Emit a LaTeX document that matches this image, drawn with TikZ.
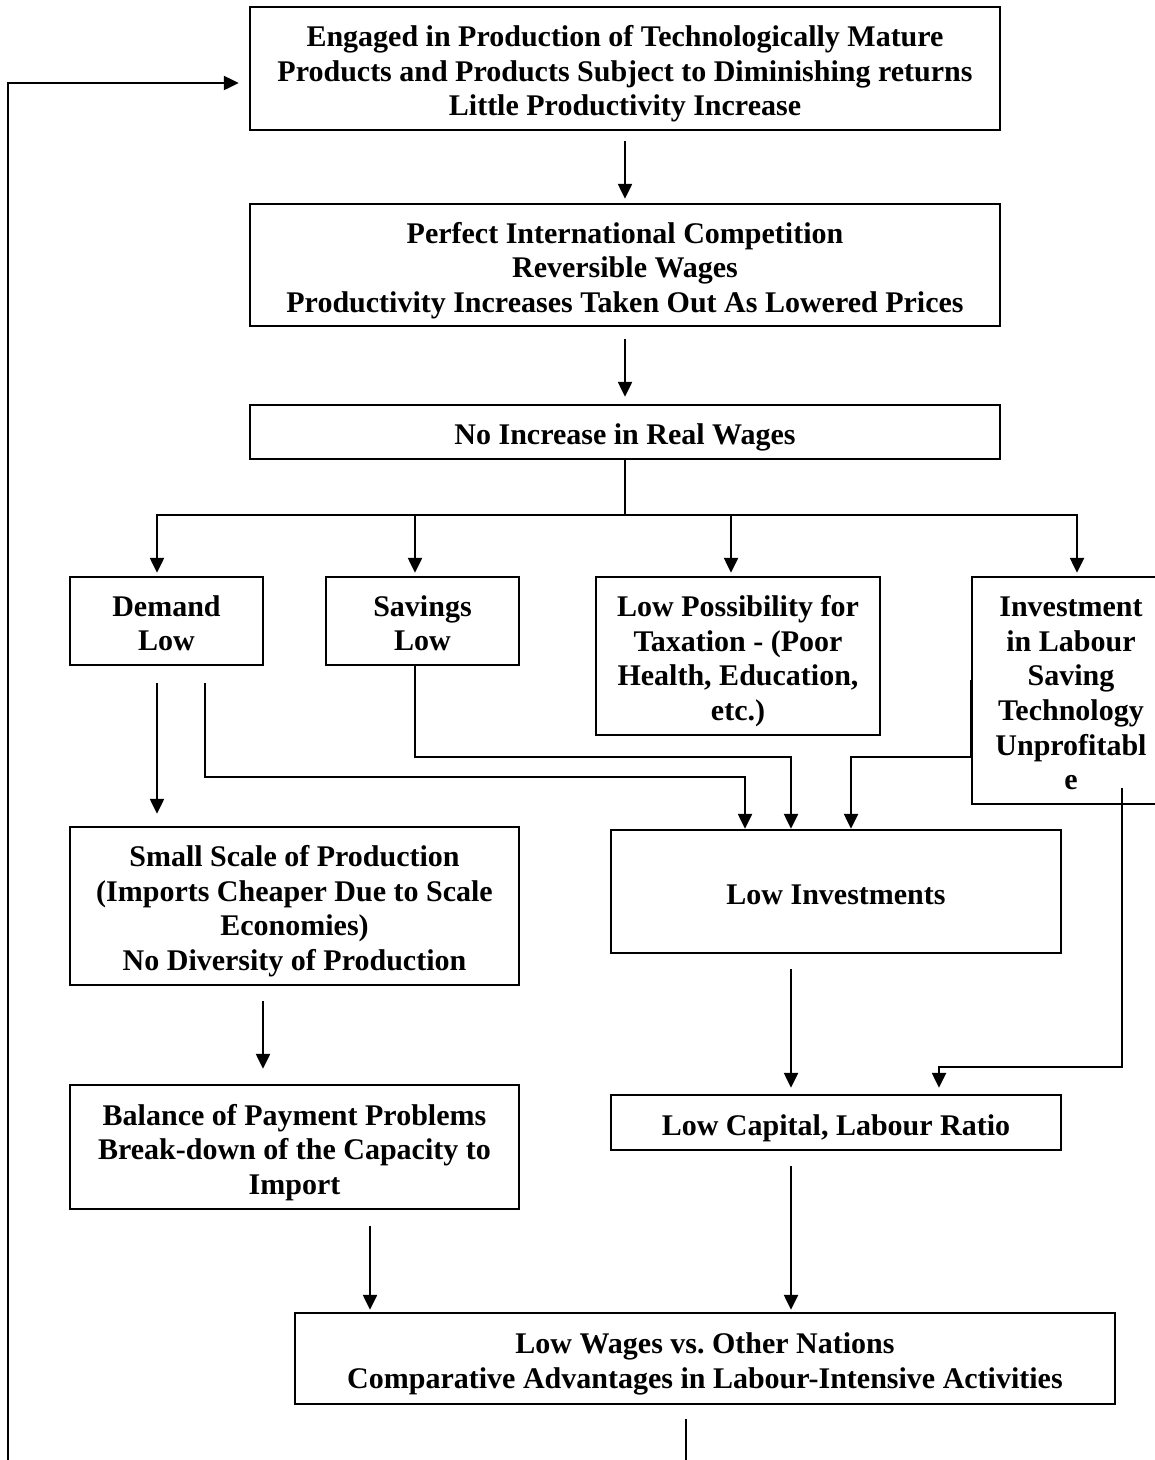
\documentclass[tikz,border=0pt]{standalone}
\usepackage{fontspec}
\setmainfont{Liberation Serif}
\usetikzlibrary{arrows.meta}
\begin{document}
\begin{tikzpicture}[x=1pt, y=-1pt, line width=2.5pt, >={Triangle[length=15pt,width=14pt]}]
       \tikzset{box/.style={draw, inner sep=0pt, align=center,
                font=\fontsize{30pt}{34.6pt}\selectfont\bfseries,
                execute at begin node={\rule{0pt}{\dimexpr 34.6pt*#1-2.9pt\relax}},
                execute at end node={\rule[-6.5pt]{0pt}{6.5pt}}},
                box/.default=1}
       \useasboundingbox (0,0) rectangle (1155,1460);

       \node[box=3, minimum width=750pt, minimum height=123pt] (engaged) at (625,68.5)
            {Engaged in Production of Technologically Mature\\Products and Products Subject to Diminishing returns\\Little Productivity Increase};
       \node[box=3, minimum width=750pt, minimum height=122pt] (competition) at (625,265)
            {Perfect International Competition\\Reversible Wages\\Productivity Increases Taken Out As Lowered Prices};
       \node[box, minimum width=750pt, minimum height=54pt] (realwages) at (625,432)
            {No Increase in Real Wages};
       \node[box=2, minimum width=193pt, minimum height=88pt] (demand) at (166.5,621)
            {Demand\\Low};
       \node[box=2, minimum width=193pt, minimum height=88pt] (savings) at (422.5,621)
            {Savings\\Low};
       \node[box=4, minimum width=284pt, minimum height=158pt] (taxation) at (738,656)
            {Low Possibility for\\Taxation - (Poor\\Health, Education,\\etc.)};
       \node[box=6, minimum width=198pt, minimum height=227pt] (labsaving) at (1071,690.5)
            {Investment\\in Labour\\Saving\\Technology\\Unprofitabl\\e};
       \node[box=4, minimum width=449pt, minimum height=158pt] (smallscale) at (294.5,906)
            {Small Scale of Production\\(Imports Cheaper Due to Scale\\Economies)\\No Diversity of Production};
       \node[box, minimum width=450pt, minimum height=123pt] (lowinv) at (836,891.5)
            {Low Investments};
       \node[box=3, minimum width=449pt, minimum height=124pt] (payments) at (294.5,1147)
            {Balance of Payment Problems\\Break-down of the Capacity to\\Import};
       \node[box, minimum width=450pt, minimum height=55pt] (capratio) at (836,1122.5)
            {Low Capital, Labour Ratio};
       \node[box=2, minimum width=820pt, minimum height=91pt] (lowwages) at (705,1358.5)
            {Low Wages vs.\ Other Nations\\Comparative Advantages in Labour-Intensive Activities};

       \coordinate (split) at (625,515);

       \draw[->, shorten <=10pt, shorten >=4pt] (engaged.south) -- (competition.north);
       \draw[->, shorten <=12pt, shorten >=7pt] (competition.south) -- (realwages.north);
       \draw (realwages.south) -- (split);
       \foreach \n/\x in {demand/157, savings/415, taxation/731, labsaving/1077}
           \draw[->, shorten >=3pt] (split) -| (\x,0 |- \n.north);

       \draw[->, shorten <=17pt, shorten >=12pt] (157,0 |- demand.south) -- (157,0 |- smallscale.north);
       \draw[->, shorten <=17pt] (205,0 |- demand.south) |- (745,777) -- (745,0 |- lowinv.north);
       \draw[->] (415,0 |- savings.south) |- (791,757) -- (791,0 |- lowinv.north);
       \draw[->] (labsaving.west |- 0,680) |- (851,757) -- (851,0 |- lowinv.north);
       \draw[->, shorten <=-17pt, shorten >=6pt] (1122,0 |- labsaving.south) |- (939,1067) -- (939,0 |- capratio.north);

       \draw[->, shorten <=15pt, shorten >=6pt] (791,0 |- lowinv.south) -- (791,0 |- capratio.north);
       \draw[->, shorten <=15pt, shorten >=15pt] (263,0 |- smallscale.south) -- (263,0 |- payments.north);
       \draw[->, shorten <=16pt, shorten >=2pt] (370,0 |- payments.south) -- (370,0 |- lowwages.north);
       \draw[->, shorten <=15pt, shorten >=2pt] (791,0 |- capratio.south) -- (791,0 |- lowwages.north);

       % loop back to the top
       \draw[shorten <=14pt] (686,0 |- lowwages.south) -- (686,1460);
       \draw[->, shorten >=10pt] (8,1460) |- ([yshift=-14.5pt]engaged.west);
   \end{tikzpicture}
\end{document}
